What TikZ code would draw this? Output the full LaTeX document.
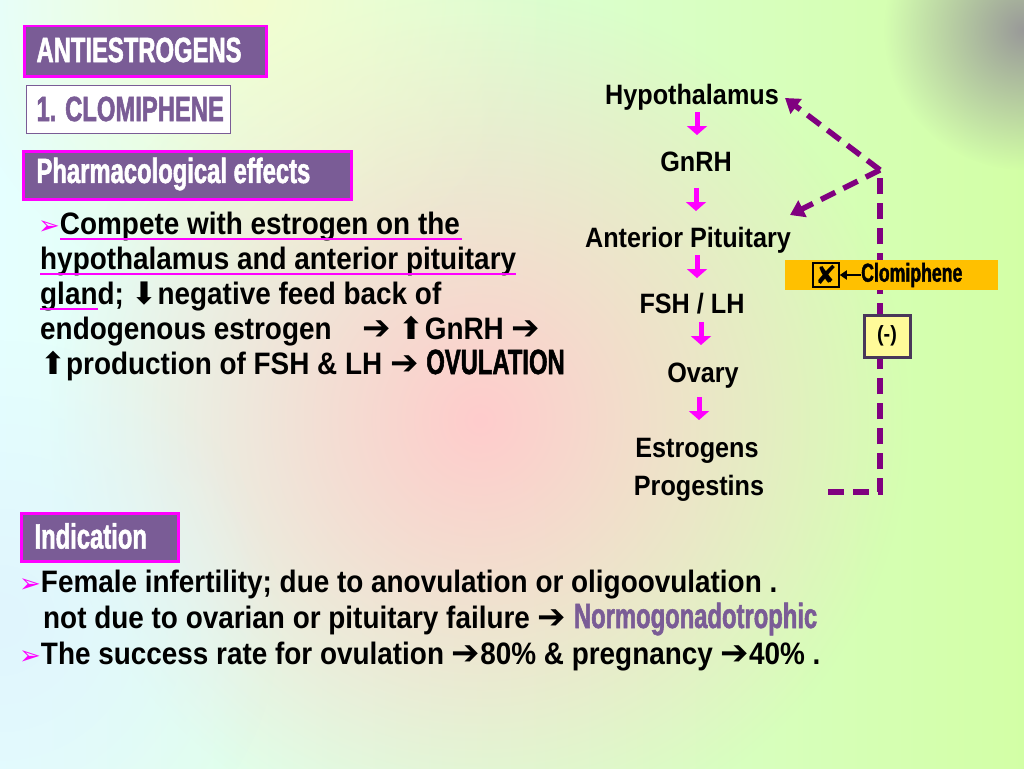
\documentclass[tikz,border=0pt]{standalone}
\usepackage{fontspec}
\setmainfont{Liberation Sans}
\newfontfamily\bodyf[FakeStretch=0.9]{Liberation Sans Bold}
\newfontfamily\flowf[FakeStretch=0.9]{Liberation Sans Bold}
\newfontfamily\condf[FakeStretch=0.68,FakeBold=1.5]{Liberation Sans Bold}
\newfontfamily\symf{DejaVu Sans}
\usetikzlibrary{arrows.meta,shadings,fadings}
\tikzfading[name=radfade, inner color=transparent!0, outer color=transparent!100]
\definecolor{hdr}{HTML}{7A5C96}
\definecolor{mag}{HTML}{FF00FF}
\definecolor{dpurp}{HTML}{800080}
\definecolor{orng}{HTML}{FFC000}
\newcommand{\ar}{{\symf\fontsize{34}{26}\selectfont ➔}}
\newcommand{\bul}{\textcolor{mag}{\symf\fontsize{26}{20}\selectfont ➢}}
\begin{document}
\begin{tikzpicture}[x=1pt,y=-1pt,
  hbox/.style={fill=hdr,draw=mag,line width=2.5pt,anchor=north west,inner sep=0},
  htxt/.style={font=\condf\fontsize{35}{36}\selectfont,text=white,anchor=west},
  body/.style={font=\bodyf\fontsize{31}{32}\selectfont,anchor=base west,inner sep=0},
  flow/.style={font=\flowf\fontsize{28}{28}\selectfont,inner sep=0,anchor=base},
  farr/.style={-{Triangle[length=9pt,width=20pt]},mag,line width=5pt},
  fb/.style={dpurp,line width=5.5pt,dash pattern=on 16pt off 9pt},
  ul/.style={mag,line width=2pt}]
\useasboundingbox (0,0) rectangle (1024,768);
\shade[left color=cyan!10!white,right color=yellow!50!green!35!white] (0,0) rectangle (1024,768);
\fill[pink!80!white,path fading=radfade] (480,420) circle (430);
\fill[yellow!25!white,path fading=radfade,opacity=0.6] (250,0) circle (300);
\fill[gray!80,path fading=radfade] (1024,30) circle (140);
\fill[cyan!12!white,path fading=radfade] (0,620) circle (280);
% header boxes
\node[hbox,minimum width=242,minimum height=50] (h1) at (23,25) {};
\node[htxt] (h1t) at (33,50) {ANTIESTROGENS};
\node[draw=hdr,fill=white,line width=0.8pt,anchor=north west,minimum width=204,minimum height=48,inner sep=0] (h2) at (26,85) {};
\node[htxt,text=hdr] (h2t) at (33,109) {1. CLOMIPHENE};
\node[hbox,minimum width=328,minimum height=48] (h3) at (22,150) {};
\node[htxt] (h3t) at (33,174) {Pharmacological effects};
% body
\node[body] (b1) at (38,234) {\bul Compete with estrogen on the};
\node[body] (b2) at (40,269) {hypothalamus and anterior pituitary};
\node[body] (b3) at (40,304) {gland; {\symf ⬇}negative feed back of};
\node[body] (b4) at (40,339) {endogenous estrogen\quad\ar\ {\symf ⬆}GnRH \ar};
\node[body] (b5) at (40,374) {{\symf ⬆}production of FSH \& LH \ar\ {\condf\fontsize{35}{35}\selectfont\color{black}OVULATION}};
\draw[ul] (60,239) -- (462,239);
\draw[ul] (40,274) -- (516,274);
\draw[ul] (40,309) -- (98,309);
% indication
\node[hbox,minimum width=157,minimum height=48] (h4) at (20,512) {};
\node[htxt] (h4t) at (31,536) {Indication};
\node[body] (c1) at (19,592) {\bul Female infertility; due to anovulation or oligoovulation .};
\node[body] (c2) at (43,628) {not due to ovarian or pituitary failure \ar\ {\condf\fontsize{35}{35}\selectfont\color{hdr}Normogonadotrophic}};
\node[body] (c3) at (19,664) {\bul The success rate for ovulation \ar 80\% \& pregnancy \ar 40\% .};
% flow
\node[flow] (hy) at (692,104) {Hypothalamus};
\node[flow] (gn) at (696,171) {GnRH};
\node[flow] (ap) at (688,247) {Anterior Pituitary};
\node[flow] (fs) at (692,313) {FSH / LH};
\node[flow] (ov) at (703,382) {Ovary};
\node[flow] (es) at (697,457) {Estrogens};
\node[flow] (pr) at (699,495) {Progestins};
\draw[farr] (697,112) -- (697,135);
\draw[farr] (696,188) -- (696,211);
\draw[farr] (697,255) -- (697,278);
\draw[farr] (701,322) -- (701,345);
\draw[farr] (699,397) -- (699,420);
% feedback
\coordinate (fb0) at (828,492);
\coordinate (fbc) at (880,492);
\coordinate (fbt) at (880,170);
\coordinate (fbh) at (785,98);
\coordinate (fba) at (790,215);
\draw[fb] (fb0) -- (fbc) -- (fbt);
\draw[fb,-{Triangle[length=14pt,width=18pt]}] (fbt) -- (fbh);
\draw[fb,-{Triangle[length=14pt,width=18pt]}] (fbt) -- (fba);
% clomiphene box
\node[fill=orng,anchor=north west,minimum width=213,minimum height=30,inner sep=0] (cb) at (785,260) {};
\node[draw=black,line width=1.5pt,minimum width=26,minimum height=24,inner sep=0,font=\symf\bfseries\fontsize{26}{26}\selectfont] (xb) at (826,275) {✘};
\node[font=\condf\fontsize{26}{26}\selectfont,anchor=west,inner sep=0] (ct) at (861,275) {Clomiphene};
\draw[-{Triangle[length=7pt,width=9pt]},line width=2pt] (ct.west) -- (xb.east);
\node[draw=hdr!60!black,fill=yellow!40!white,line width=3pt,minimum width=46,minimum height=42,inner sep=0,font=\flowf\fontsize{22}{22}\selectfont] (neg) at (887,336) {(-)};
\end{tikzpicture}
\end{document}
